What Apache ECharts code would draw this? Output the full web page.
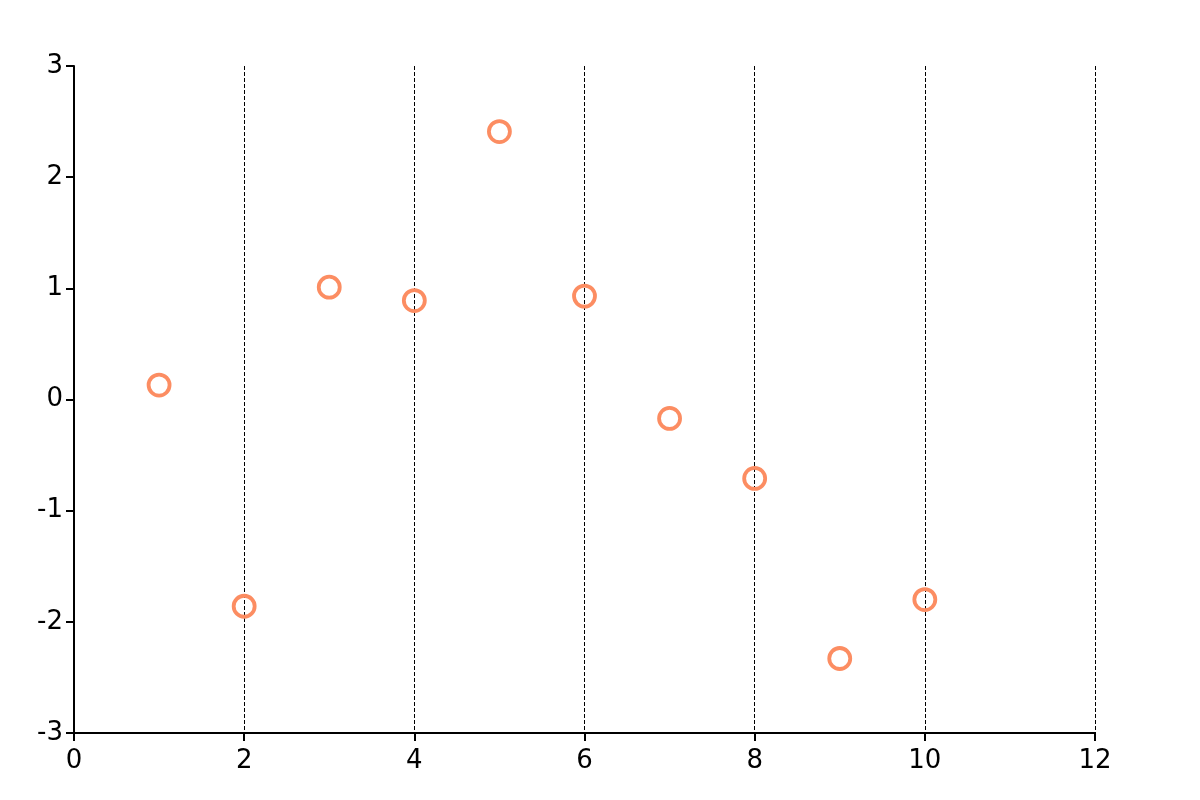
<!DOCTYPE html>
<html>
<head>
  <meta charset="utf-8">
  <title>scatter</title>
  <script src="https://cdn.jsdelivr.net/npm/echarts@6/dist/echarts.min.js"></script>
  <style>
    html, body { margin: 0; padding: 0; background: #fff; }
    #main { width: 1200px; height: 800px; }
  </style>
</head>
<body>
<div id="main"></div>
<script>
// data
var xValues = [1, 2, 3, 4, 5, 6, 7, 8, 9, 10];
var yValues = [0.13, -1.86, 1.01, 0.89, 2.41, 0.93, -0.17, -0.71, -2.33, -1.80];

var points = xValues.map(function (x, i) { return [x, yValues[i]]; });

var axisFont = { fontFamily: 'DejaVu Sans', fontSize: 26, color: '#000' };

var option = {
  animation: false,
  grid: { left: 74, right: 105, top: 66, bottom: 67 },
  xAxis: {
    type: 'value',
    min: 0, max: 12, interval: 2,
    axisLine: { onZero: false, lineStyle: { color: '#000', width: 2 } },
    axisTick: { show: true, length: 8, lineStyle: { color: '#000', width: 2 } },
    axisLabel: Object.assign({ margin: 15 }, axisFont),
    splitLine: { show: true, lineStyle: { color: '#000', width: 1, type: [4, 2] } }
  },
  yAxis: {
    type: 'value',
    min: -3, max: 3, interval: 1,
    axisLine: { show: true, onZero: false, lineStyle: { color: '#000', width: 2 } },
    axisTick: { show: true, length: 8, lineStyle: { color: '#000', width: 2 } },
    axisLabel: Object.assign({ margin: 11 }, axisFont),
    splitLine: { show: false }
  },
  series: [{
    type: 'scatter',
    data: points,
    symbol: 'circle',
    symbolSize: 21,
    itemStyle: { color: 'transparent', borderColor: '#fc8d62', borderWidth: 3.8, opacity: 1 }
  }]
};

var myChart = echarts.init(document.getElementById('main'));
myChart.setOption(option);
</script>
</body>
</html>
